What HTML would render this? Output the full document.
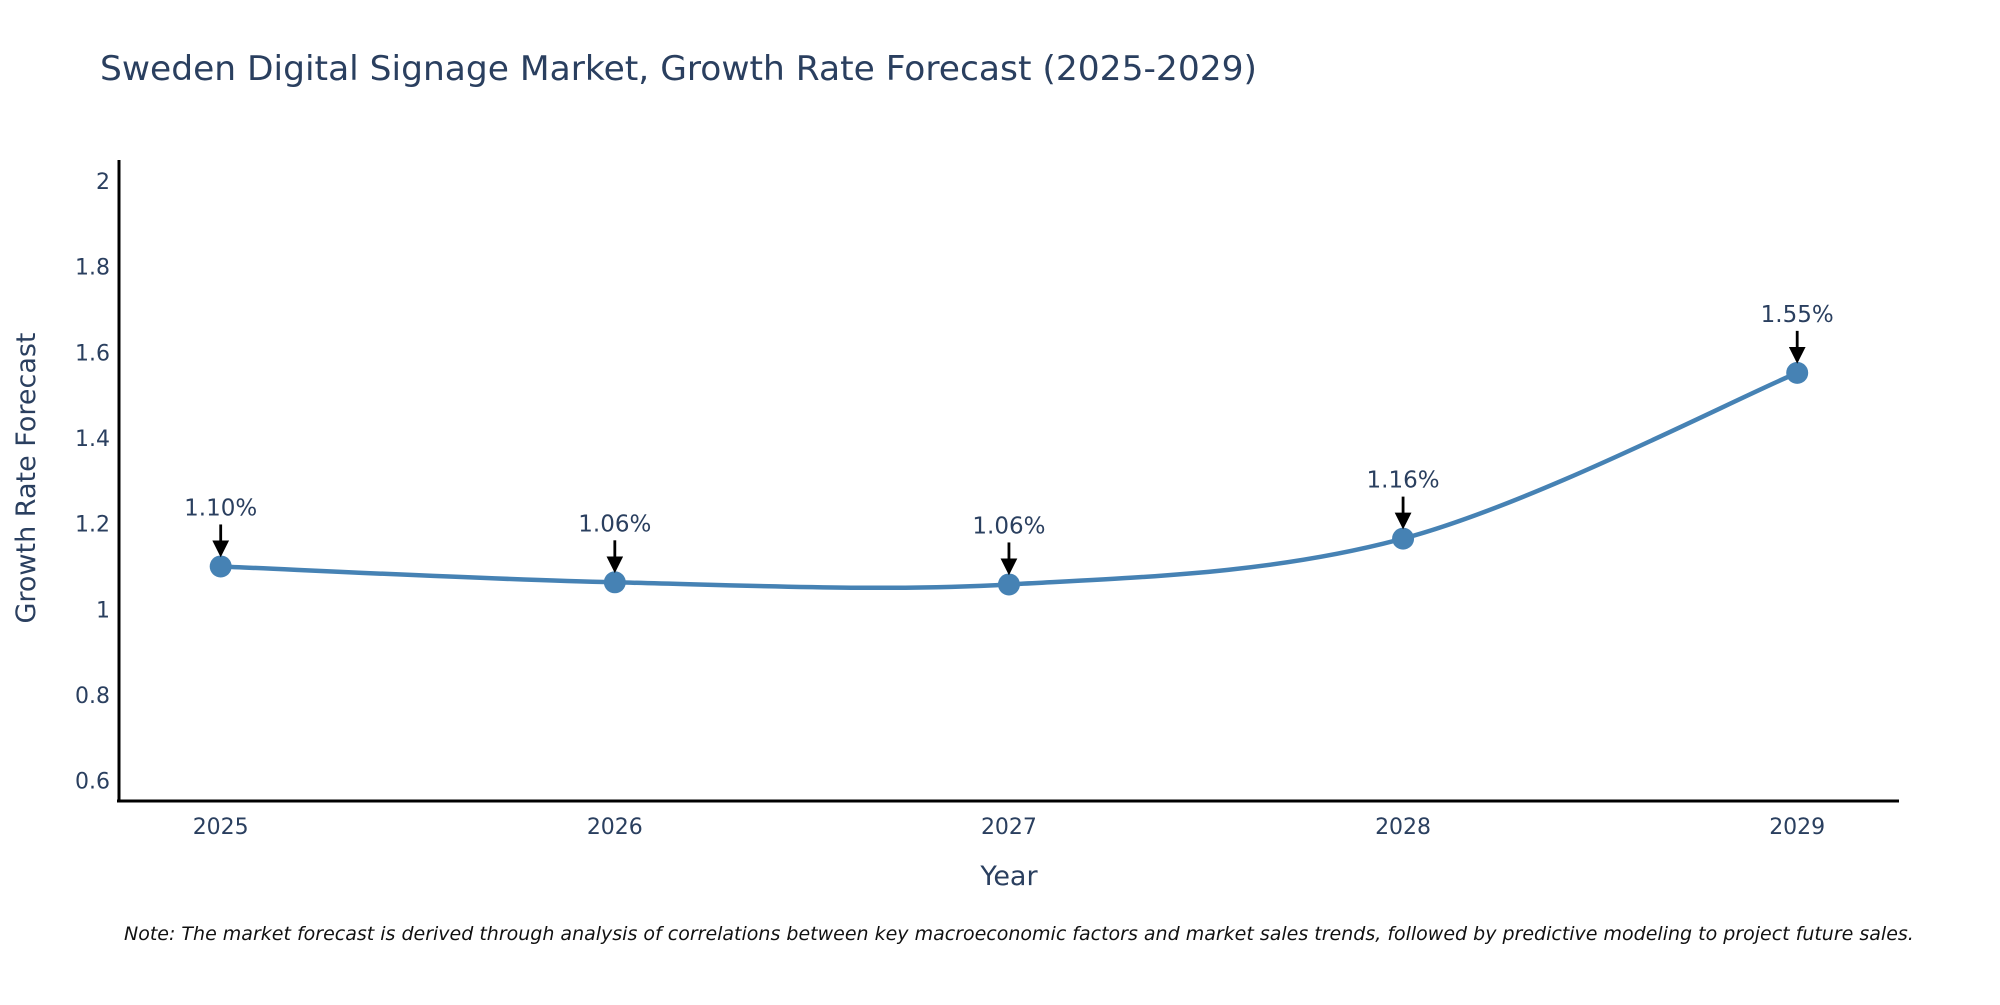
<!DOCTYPE html>
<html><head><meta charset="utf-8"><style>
body{margin:0;background:#fff;}
svg text{font-family:"DejaVu Sans","Liberation Sans",sans-serif;fill:#2a3f5f;}
</style></head><body>
<svg id="chart" width="2000" height="1000" viewBox="0 0 2000 1000" xmlns="http://www.w3.org/2000/svg">
<defs><marker id="ah" markerWidth="6" markerHeight="6" refX="5" refY="3" orient="auto" markerUnits="strokeWidth"><path d="M0,0 L6,3 L0,6 z" fill="#000"/></marker></defs>
<text x="100" y="80" font-size="34" textLength="1157" lengthAdjust="spacingAndGlyphs">Sweden Digital Signage Market, Growth Rate Forecast (2025-2029)</text>
<g id="yticks"></g>
<g id="xticks"></g>
<line x1="119" y1="160" x2="119" y2="802" stroke="#000" stroke-width="3"/>
<line x1="117" y1="801" x2="1899" y2="801" stroke="#000" stroke-width="3"/>
<path id="line" fill="none" stroke="#4682b4" stroke-width="4.5"/>
<g id="marks"></g>
<text x="1009" y="885" font-size="27" text-anchor="middle">Year</text>
<text transform="translate(35,478) rotate(-90)" font-size="27" text-anchor="middle">Growth Rate Forecast</text>
<text x="124" y="940" font-size="19" font-style="italic" style="fill:#111">Note: The market forecast is derived through analysis of correlations between key macroeconomic factors and market sales trends, followed by predictive modeling to project future sales.</text>
</svg>
<script>
const years=[2025,2026,2027,2028,2029];
const values=[1.10,1.063,1.058,1.165,1.552];
const labels=["1.10%","1.06%","1.06%","1.16%","1.55%"];
const yTicks=[0.6,0.8,1,1.2,1.4,1.6,1.8,2];
const ns="http://www.w3.org/2000/svg";
const X=v=>220.7+(v-2025)*(1797.2-220.7)/4;
const Y=v=>780.6-(v-0.6)*(780.6-181)/1.4;
function mk(t,a,p){const e=document.createElementNS(ns,t);for(const k in a)e.setAttribute(k,a[k]);p.appendChild(e);return e;}
const yt=document.getElementById('yticks');
yTicks.forEach(v=>{const t=mk('text',{x:110,y:Y(v)+8,'font-size':22,'text-anchor':'end'},yt);t.textContent=String(v);

});
const xt=document.getElementById('xticks');
years.forEach(v=>{const t=mk('text',{x:X(v),y:834,'font-size':22,'text-anchor':'middle'},xt);t.textContent=String(v);

});
const pts=years.map((y,i)=>[X(y),Y(values[i])]);
let d=`M${pts[0][0]},${pts[0][1]}`;
for(let i=0;i<pts.length-1;i++){const p0=pts[Math.max(i-1,0)],p1=pts[i],p2=pts[i+1],p3=pts[Math.min(i+2,pts.length-1)];const s=1/3;
d+=` C${p1[0]+(p2[0]-p0[0])*s/2},${p1[1]+(p2[1]-p0[1])*s/2} ${p2[0]-(p3[0]-p1[0])*s/2},${p2[1]-(p3[1]-p1[1])*s/2} ${p2[0]},${p2[1]}`;}
document.getElementById('line').setAttribute('d',d);
const mg=document.getElementById('marks');
pts.forEach((p,i)=>{const c=mk('circle',{cx:p[0],cy:p[1],r:11,fill:'#4682b4'},mg);


const a=mk('line',{x1:p[0],y1:p[1]-42,x2:p[0],y2:p[1]-12,stroke:'#000','stroke-width':2.8,'marker-end':'url(#ah)'},mg);


const t=mk('text',{x:p[0],y:p[1]-51,'font-size':23,'text-anchor':'middle'},mg);t.textContent=labels[i];

});
</script>
</body></html>
